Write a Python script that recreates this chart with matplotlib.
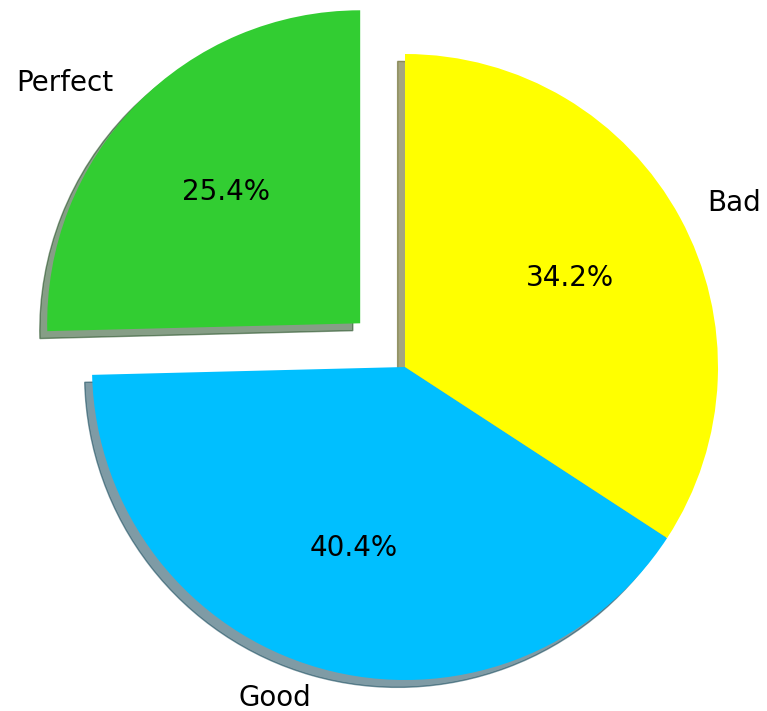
import matplotlib
matplotlib.use("Agg")
import matplotlib.pyplot as plt

labels = ["Perfect", "Good", "Bad"]
sizes = [25.4, 40.4, 34.2]
colors = ["limegreen", "deepskyblue", "yellow"]
explode = [0.2, 0, 0]

fig = plt.figure(figsize=(7.67, 7.11), dpi=100)
ax = fig.add_axes([0, 0, 1, 1])
ax.pie(sizes, labels=labels, colors=colors, explode=explode,
       autopct="%1.1f%%", startangle=90,
       shadow={"ox": -0.017, "oy": -0.017},
       textprops={"fontsize": 20})
# centre ~ (405, 344) px from bottom-left, radius ~313 px
r = 313
ax.set_aspect("auto")
ax.set_xlim(-405 / r, (767 - 405) / r)
ax.set_ylim(-344 / r, (711 - 344) / r)
fig.savefig("out.png", dpi=100)
